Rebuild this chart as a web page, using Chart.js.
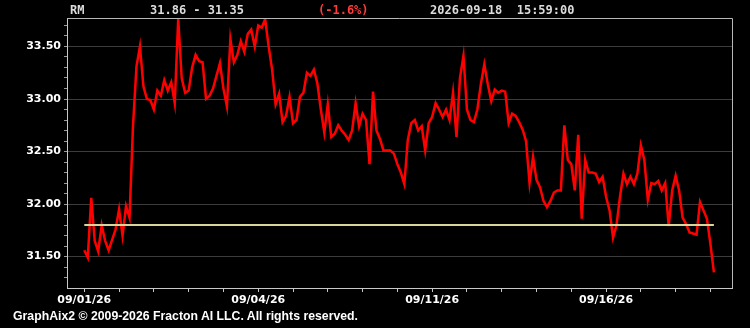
<!DOCTYPE html>
<html>
<head>
<meta charset="utf-8">
<script src="https://cdn.jsdelivr.net/npm/chart.js@4/dist/chart.umd.min.js"></script>
<style>
  html, body { margin: 0; padding: 0; background: #000; }
  #wrap { position: relative; width: 750px; height: 328px; background: #000; }
  #chart { position: absolute; left: 0; top: 0; }
  .hdr { position: absolute; top: 3px; font: bold 12px "DejaVu Sans Mono", monospace; color: #dcdcdc; white-space: pre; }
  #footer { position: absolute; left: 13px; top: 308px; font: bold 13px "Liberation Sans Narrow", "Liberation Sans", Arial, sans-serif;
            color: #fff; white-space: pre; transform-origin: 0 0; }
</style>
</head>
<body>
<div id="wrap">
  <canvas id="chart" width="750" height="328"></canvas>
  <div class="hdr" style="left:70px">RM</div>
  <div class="hdr" style="left:150px">31.86 - 31.35</div>
  <div class="hdr" style="left:318px;color:#ff3b3b">(-1.6%)</div>
  <div class="hdr" style="left:430px">2026-09-18  15:59:00</div>
  <div id="footer">GraphAix2 © 2009-2026 Fracton AI LLC. All rights reserved.</div>
</div>
<script>
// price samples, one per bar index
const prices = [
  31.56, 31.49, 32.06, 31.65, 31.55, 31.80, 31.65, 31.56, 31.66, 31.76,
  31.95, 31.70, 31.98, 31.87, 32.74, 33.31, 33.50, 33.12, 33.00, 32.99,
  32.90, 33.08, 33.03, 33.18, 33.08, 33.16, 32.96, 33.76, 33.20, 33.06,
  33.08, 33.30, 33.42, 33.36, 33.35, 33.00, 33.03, 33.10, 33.22, 33.34,
  33.10, 32.93, 33.57, 33.35, 33.42, 33.55, 33.45, 33.62, 33.66, 33.50,
  33.70, 33.68, 33.76, 33.50, 33.28, 32.95, 33.05, 32.78, 32.84, 33.02,
  32.77, 32.80, 33.02, 33.06, 33.25, 33.22, 33.28, 33.15, 32.90, 32.68,
  32.95, 32.64, 32.67, 32.75, 32.70, 32.66, 32.61, 32.70, 32.96, 32.74,
  32.86, 32.80, 32.38, 33.07, 32.70, 32.62, 32.51, 32.51, 32.51, 32.48,
  32.38, 32.30, 32.19, 32.61, 32.77, 32.80, 32.70, 32.74, 32.51, 32.77,
  32.83, 32.96, 32.90, 32.83, 32.90, 32.80, 33.06, 32.64, 33.20, 33.41,
  32.90, 32.80, 32.78, 32.90, 33.14, 33.33, 33.14, 32.98, 33.09, 33.06,
  33.08, 33.07, 32.77, 32.86, 32.84, 32.78, 32.71, 32.60, 32.20, 32.45,
  32.23, 32.16, 32.03, 31.97, 32.03, 32.11, 32.13, 32.13, 32.75, 32.42,
  32.38, 32.13, 32.66, 31.86, 32.42, 32.30, 32.30, 32.29, 32.21, 32.26,
  32.07, 31.94, 31.68, 31.80, 32.07, 32.29, 32.19, 32.26, 32.19, 32.29,
  32.56, 32.42, 32.04, 32.20, 32.19, 32.22, 32.13, 32.20, 31.79, 32.13,
  32.27, 32.13, 31.87, 31.81, 31.73, 31.72, 31.71, 32.02, 31.94, 31.86,
  31.62, 31.35
];

// reference level (yellow line)
const refPrice = 31.80;

// x axis: labelled bar indices
const dateTickIdx = [0, 50, 100, 150];
const dateTickLabels = ["09/01/26", "09/04/26", "09/11/26", "09/16/26"];

// y axis major labels
const priceTickValues = [31.5, 32.0, 32.5, 33.0, 33.5];

const priceData = prices.map((p, i) => ({ x: i, y: p }));
const refData = [{ x: 0, y: refPrice }, { x: prices.length - 1, y: refPrice }];

const isMajor = v => priceTickValues.some(t => Math.abs(t - v) < 1e-6);

// frame on top and right of plot area
const framePlugin = {
  id: "frame",
  afterDraw(chart) {
    const { ctx, chartArea: a } = chart;
    ctx.save();
    ctx.strokeStyle = "#b8b8b8";
    ctx.lineWidth = 1;
    ctx.beginPath();
    ctx.moveTo(a.left, a.top + 0.5);
    ctx.lineTo(a.right + 0.5, a.top + 0.5);
    ctx.lineTo(a.right + 0.5, a.bottom);
    ctx.stroke();
    ctx.restore();
  }
};

new Chart(document.getElementById("chart"), {
  type: "line",
  data: {
    datasets: [
      {
        data: priceData,
        borderColor: "#ff0000",
        borderWidth: 2.5,
        pointRadius: 0,
        tension: 0,
        order: 2
      },
      {
        data: refData,
        borderColor: "#d6d69a",
        borderWidth: 2,
        pointRadius: 0,
        order: 1
      }
    ]
  },
  plugins: [framePlugin],
  options: {
    responsive: false,
    animation: false,
    layout: { padding: { left: 0, top: 18, right: 18, bottom: 0 } },
    plugins: { legend: { display: false }, tooltip: { enabled: false } },
    scales: {
      x: {
        type: "linear",
        min: -4.97,
        max: 186.2,
        border: { color: "#c8c8c8", width: 1 },
        grid: { drawOnChartArea: false, tickColor: "#c8c8c8", tickLength: 4 },
        ticks: {
          stepSize: 10,
          includeBounds: false,
          autoSkip: false,
          maxRotation: 0,
          padding: 2,
          color: "#ffffff",
          font: { family: "DejaVu Sans", weight: "bold", size: 11 },
          callback: v => {
            const k = dateTickIdx.indexOf(Math.round(v));
            return k >= 0 ? dateTickLabels[k] : "";
          }
        },
        afterFit: s => { s.height = 40; }
      },
      y: {
        min: 31.201,
        max: 33.771,
        border: { color: "#c8c8c8", width: 1 },
        grid: {
          color: ctx => isMajor(ctx.tick.value) ? "#3c3c3c" : "rgba(0,0,0,0)",
          tickColor: "#9a9a9a",
          tickLength: 3
        },
        ticks: {
          stepSize: 0.1,
          includeBounds: false,
          autoSkip: false,
          padding: 3,
          color: "#ffffff",
          font: { family: "DejaVu Sans", weight: "bold", size: 11 },
          callback: v => isMajor(v) ? v.toFixed(2) : ""
        },
        afterFit: s => { s.width = 67; }
      }
    }
  }
});

// squeeze footer to its width in the reference
const foot = document.getElementById("footer");
const fw = foot.getBoundingClientRect().width;
foot.style.transform = "scaleX(" + (345 / fw) + ")";
</script>
</body>
</html>
